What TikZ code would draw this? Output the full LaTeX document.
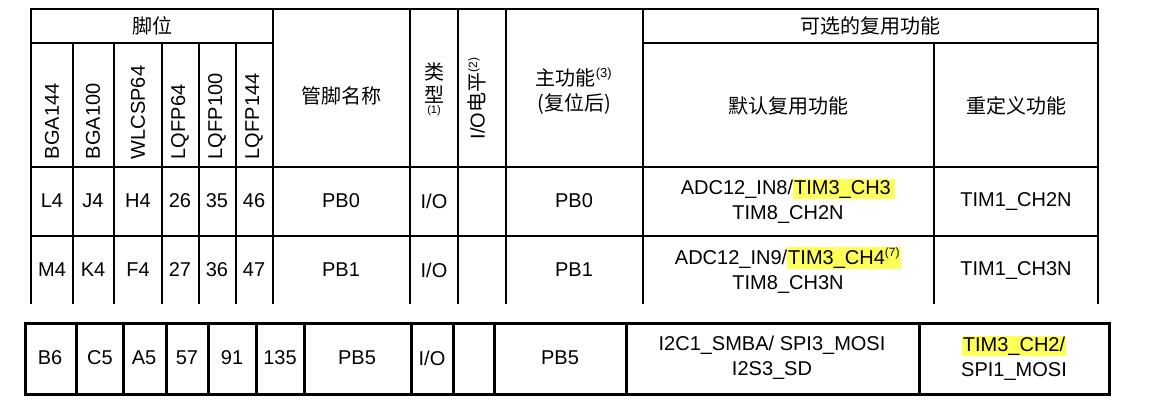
\documentclass[tikz,border=0pt]{standalone}
\usepackage{fontspec}
\setmainfont{Liberation Sans}
\newfontfamily\cjk{Noto Sans CJK SC}
\definecolor{hlyellow}{RGB}{255,255,90}
\newcommand{\hlt}[1]{{\setlength{\fboxsep}{1pt}\colorbox{hlyellow}{#1}}}
\begin{document}
\begin{tikzpicture}[x=1pt, y=-1pt, line width=1.6pt,
    every node/.style={inner sep=0pt, align=center, font=\fontsize{20}{25}\selectfont},
    cn/.style={font=\cjk\fontsize{20}{25}\selectfont},
    vert/.style={rotate=90, anchor=west}]
    \useasboundingbox (0,0) rectangle (1161,408);
    % upper table
    \draw (31,9) rectangle (1098,305);
    \draw[line width=2pt] (31,43) -- (273,43);
    \draw (643,43) -- (1098,43);
    \draw[line width=2pt] (31,167) -- (1098,167);
    \draw (31,236) -- (1098,236);
    \foreach \x in {73,114,162,199,236} \draw (\x,43) -- (\x,305);
    \foreach \x in {273,410,458,506,643} \draw (\x,9) -- (\x,305);
    \draw (934,43) -- (934,305);
    \draw[white, line width=3pt] (29,305) -- (1100,305);
    % header
    \node[cn] (jw) at (152,26) {脚位};
    \node[cn] (kx) at (870,26) {可选的复用功能};
    \foreach \x/\t [count=\i] in {52/BGA144,93/BGA100,138/WLCSP64,180/LQFP64,217/LQFP100,254/LQFP144}
        \node[vert] (pk\i) at (\x,160) {\t};
    \node[cn] (gj) at (341,96) {管脚名称};
    \node[cn] (lx) at (434,83) {类\\[-2pt]型};
    \node[font=\fontsize{11}{13}\selectfont] (lxn) at (434,111) {(1)};
    \node[vert] (io) at (477,140) {I/O{\cjk 电平}\textsuperscript{\fontsize{12}{13}\selectfont(2)}};
    \node[cn] (zg) at (574,91) {主功能\textsuperscript{\rmfamily\fontsize{13}{14}\selectfont(3)}\\(复位后)};
    \node[cn] (mr) at (788,106) {默认复用功能};
    \node[cn] (cd) at (1016,106) {重定义功能};
    % rows
    \foreach \x/\t [count=\i] in {52/L4,93/J4,138/H4,180/26,217/35,254/46,341/PB0,434/{I/O},574/PB0}
        \node (ra\i) at (\x,201) {\t};
    \foreach \x/\t [count=\i] in {52/M4,93/K4,138/F4,180/27,217/36,254/47,341/PB1,434/{I/O},574/PB1}
        \node (rb\i) at (\x,270) {\t};
    \node (ma) at (788,201) {ADC12\_IN8/\hlt{TIM3\_CH3\,}\\TIM8\_CH2N};
    \node (ca) at (1016,201) {TIM1\_CH2N};
    \node (mb) at (788,270) {ADC12\_IN9/\hlt{TIM3\_CH4\textsuperscript{\fontsize{12}{13}\selectfont(7)}}\\TIM8\_CH3N};
    \node (cb) at (1016,270) {TIM1\_CH3N};
    % lower table
    \begin{scope}[line width=3pt]
        \draw (25,323) rectangle (1109,394);
        \foreach \x in {76,123,166,208,256,304,411,453,494,626,919} \draw (\x,323) -- (\x,394);
    \end{scope}
    \foreach \x/\t [count=\i] in {50/B6,100/C5,144/A5,187/57,232/91,280/135,357/PB5,432/{I/O},560/PB5}
        \node (rc\i) at (\x,358) {\t};
    \node (mc) at (772,358) {I2C1\_SMBA/ SPI3\_MOSI\\I2S3\_SD};
    \node (cc) at (1014,358) {\hlt{TIM3\_CH2/}\\SPI1\_MOSI};
\end{tikzpicture}
\end{document}
